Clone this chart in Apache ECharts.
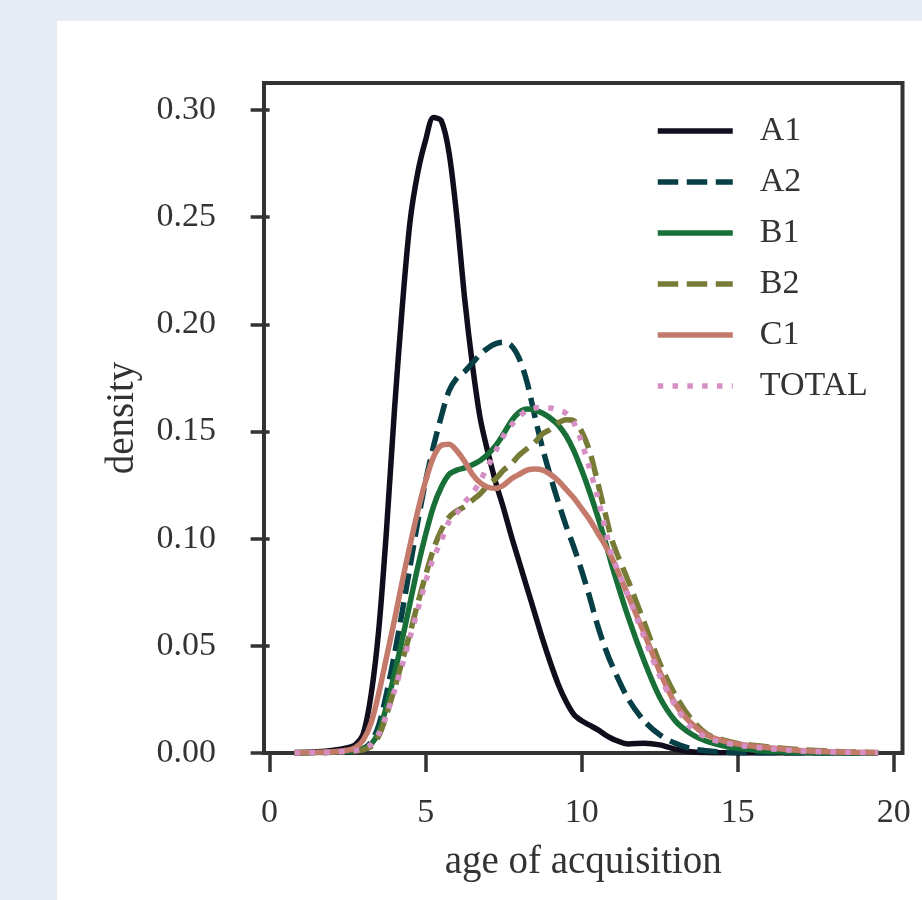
<!DOCTYPE html>
<html>
<head>
<meta charset="utf-8">
<script src="https://cdn.jsdelivr.net/npm/echarts@6/dist/echarts.min.js"></script>
<style>
  html, body { margin: 0; padding: 0; background: #e5ecf4; }
  #chart { position: absolute; left: 57px; top: 21px; width: 865px; height: 879px; background: #ffffff; }
</style>
</head>
<body>
<div id="chart"></div>
<script>
// age grid (x values shared by every curve)
const ages = [0.8, 1.5, 2, 2.5, 2.75, 3, 3.25, 3.5, 3.75, 4, 4.25, 4.5, 4.75, 5, 5.25, 5.5, 5.75, 6, 6.25, 6.5, 6.75, 7, 7.25, 7.5, 7.75, 8, 8.25, 8.5, 8.75, 9, 9.25, 9.5, 9.75, 10, 10.25, 10.5, 10.75, 11, 11.5, 12, 12.5, 13, 13.5, 14, 14.5, 15, 16, 17, 18, 19.5];

// density curves
const a1 = [0.0002, 0.0006, 0.0012, 0.0025, 0.004, 0.009, 0.027, 0.058, 0.105, 0.160, 0.208, 0.248, 0.271, 0.286, 0.2965, 0.2950, 0.280, 0.250, 0.212, 0.181, 0.156, 0.140, 0.126, 0.114, 0.101, 0.089, 0.077, 0.065, 0.053, 0.042, 0.032, 0.024, 0.018, 0.015, 0.013, 0.011, 0.0085, 0.0065, 0.0042, 0.0046, 0.0038, 0.0018, 0.0006, 0.0002, 0.0001, 0, 0, 0, 0, 0];
const a2 = [0, 0.0002, 0.0004, 0.0008, 0.0012, 0.002, 0.005, 0.013, 0.028, 0.046, 0.066, 0.087, 0.108, 0.127, 0.143, 0.157, 0.169, 0.175, 0.178, 0.182, 0.186, 0.189, 0.191, 0.1917, 0.190, 0.184, 0.173, 0.157, 0.142, 0.129, 0.117, 0.106, 0.096, 0.085, 0.073, 0.060, 0.049, 0.040, 0.025, 0.015, 0.0085, 0.0045, 0.002, 0.001, 0.0004, 0.0002, 0.0001, 0, 0, 0];
const b1 = [0, 0.0002, 0.0004, 0.0008, 0.0012, 0.002, 0.004, 0.010, 0.022, 0.037, 0.053, 0.070, 0.087, 0.102, 0.115, 0.124, 0.130, 0.132, 0.133, 0.1345, 0.1365, 0.1395, 0.1435, 0.149, 0.155, 0.159, 0.1605, 0.160, 0.1585, 0.1562, 0.153, 0.148, 0.141, 0.132, 0.122, 0.111, 0.099, 0.086, 0.063, 0.043, 0.026, 0.015, 0.009, 0.0055, 0.0035, 0.0022, 0.0008, 0.0003, 0.0001, 0];
const b2 = [0, 0.0002, 0.0004, 0.0007, 0.001, 0.0015, 0.003, 0.008, 0.018, 0.030, 0.043, 0.056, 0.070, 0.083, 0.095, 0.104, 0.110, 0.113, 0.115, 0.118, 0.121, 0.125, 0.128, 0.132, 0.135, 0.139, 0.142, 0.145, 0.149, 0.151, 0.154, 0.1555, 0.155, 0.150, 0.141, 0.127, 0.112, 0.098, 0.080, 0.061, 0.042, 0.027, 0.016, 0.009, 0.0062, 0.0045, 0.0028, 0.0016, 0.0008, 0.0002];
const c1 = [0.0001, 0.0003, 0.0006, 0.0013, 0.0025, 0.006, 0.014, 0.028, 0.045, 0.062, 0.080, 0.097, 0.113, 0.127, 0.138, 0.1435, 0.144, 0.141, 0.136, 0.130, 0.126, 0.124, 0.1235, 0.125, 0.128, 0.130, 0.132, 0.1325, 0.132, 0.130, 0.127, 0.123, 0.119, 0.114, 0.109, 0.103, 0.097, 0.090, 0.073, 0.056, 0.038, 0.023, 0.014, 0.0085, 0.0058, 0.0042, 0.0024, 0.0012, 0.0006, 0.0001];
const total = [0, 0.0002, 0.0004, 0.0008, 0.0012, 0.002, 0.004, 0.009, 0.018, 0.029, 0.041, 0.054, 0.067, 0.080, 0.091, 0.099, 0.108, 0.112, 0.117, 0.121, 0.127, 0.134, 0.141, 0.148, 0.153, 0.157, 0.160, 0.161, 0.1612, 0.161, 0.160, 0.1585, 0.154, 0.145, 0.133, 0.120, 0.105, 0.091, 0.073, 0.054, 0.036, 0.022, 0.012, 0.0072, 0.005, 0.0036, 0.002, 0.001, 0.0005, 0.0001];

const names = ['A1', 'A2', 'B1', 'B2', 'C1', 'TOTAL'];
const curves = [a1, a2, b1, b2, c1, total];
const colors = ['#110d1c', '#063f45', '#187038', '#777b36', '#c47a6b', '#d68fc5'];
const dashes = ['solid', [20.5, 8.5], 'solid', [20.5, 8.5], 'solid', [5.5, 9.3]];

const xTicks = [0, 5, 10, 15, 20];
const yTicks = [0, 0.05, 0.1, 0.15, 0.2, 0.25, 0.3];

const font = '"Liberation Serif", "DejaVu Serif", serif';
const ink = '#333333';
const lw = 5.5;

const chart = echarts.init(document.getElementById('chart'), null, { renderer: 'canvas' });

chart.setOption({
  animation: false,
  backgroundColor: '#ffffff',
  grid: {
    left: 207, top: 62, width: 638.5, height: 670,
    show: true, borderColor: ink, borderWidth: 4, backgroundColor: 'transparent'
  },
  legend: {
    left: 593, top: 88, orient: 'vertical',
    itemWidth: 75, itemHeight: 34, itemGap: 17,
    itemStyle: { color: 'transparent', borderWidth: 0, opacity: 0 },
    lineStyle: { width: lw },
    textStyle: { fontFamily: font, fontSize: 34, color: ink, padding: [0, 0, 0, 22] },
    data: names
  },
  xAxis: {
    type: 'value', min: -0.18, max: 20.28,
    name: 'age of acquisition', nameLocation: 'middle', nameGap: 90,
    nameTextStyle: { fontFamily: font, fontSize: 39, color: ink },
    axisLine: { show: false },
    splitLine: { show: false },
    axisTick: { show: true, length: 19, customValues: xTicks, lineStyle: { color: ink, width: 3.5 } },
    axisLabel: { customValues: xTicks, margin: 43, fontFamily: font, fontSize: 34, color: ink }
  },
  yAxis: {
    type: 'value', min: 0, max: 0.3126,
    name: 'density', nameLocation: 'middle', nameGap: 122,
    nameTextStyle: { fontFamily: font, fontSize: 39, color: ink },
    axisLine: { show: false },
    splitLine: { show: false },
    axisTick: { show: true, length: 19, customValues: yTicks, lineStyle: { color: ink, width: 3.5 } },
    axisLabel: { customValues: yTicks, margin: 48, fontFamily: font, fontSize: 34, color: ink,
      formatter: v => v.toFixed(2) }
  },
  series: names.map((n, i) => ({
    name: n,
    type: 'line',
    data: ages.map((a, j) => [a, curves[i][j]]),
    smooth: 0.3,
    symbol: 'none',
    lineStyle: { color: colors[i], width: lw, type: dashes[i], cap: 'butt' },
    itemStyle: { color: colors[i] }
  }))
});
</script>
</body>
</html>
